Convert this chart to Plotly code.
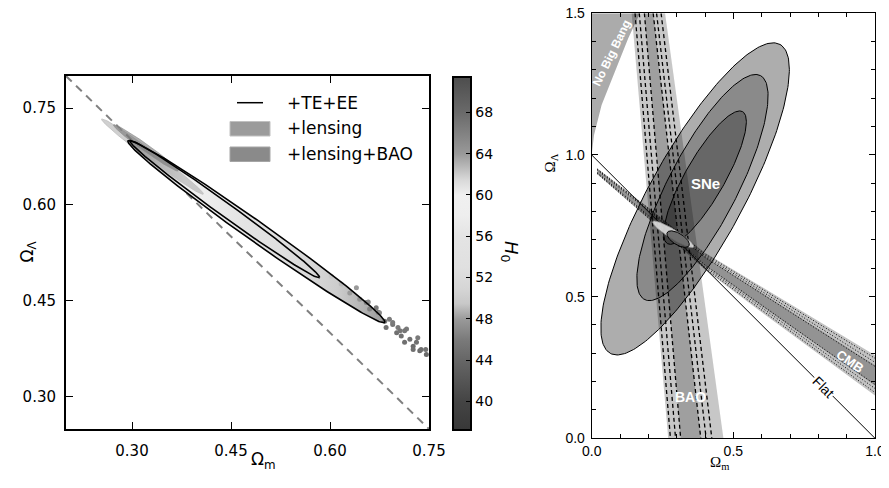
import numpy as np
import plotly.graph_objects as go

W, H = 889, 488      # window size
OFF = 8              # page body margin
FW, FH = W - OFF, H - OFF

# ---------------- DATA ----------------
# H0 colour map of the left panel (H0 value -> grey level)
cmap_h0 = [37.26, 40.0, 42.0, 44.0, 46.0, 48.0, 49.5, 51.0, 53.0, 56.0, 58.0, 60.0, 61.5, 64.0, 68.0, 71.45]
cmap_gray = [56, 68, 85, 102, 122, 154, 200, 214, 224, 228, 238, 240, 216, 153, 106, 77]
h0_ticks = [40, 44, 48, 52, 56, 60, 64, 68]

# Left panel axes ticks
left_ticks = [0.30, 0.45, 0.60, 0.75]
left_ticktext = ["0.30", "0.45", "0.60", "0.75"]

# +TE+EE contours (end points in Om, OL and width ratio)
te95_om = [0.294, 0.683]
te95_ol = [0.699, 0.416]
te95_ratio = 0.064
te68_om = [0.297, 0.584]
te68_ol = [0.699, 0.486]
te68_ratio = 0.058
# +lensing and +lensing+BAO
lens_om = [0.254, 0.408]
lens_ol = [0.733, 0.616]
lens_ratio = 0.07
lbao_om = [0.272, 0.370]
lbao_ol = [0.724, 0.652]
lbao_ratio = 0.09

# H0 along the degeneracy ridge (colour of the sample cloud)
ridge_om = [0.29, 0.32, 0.35, 0.38, 0.42, 0.47, 0.52, 0.57, 0.61, 0.65, 0.69]
ridge_h0 = [65.0, 63.0, 61.5, 60.0, 57.5, 55.0, 53.0, 51.5, 50.0, 48.8, 47.5]

# MCMC samples scattered beyond the contour tip
tail_om = [0.617, 0.630, 0.645, 0.655, 0.658, 0.660, 0.670, 0.673, 0.675, 0.683, 0.685, 0.690, 0.695,
           0.701, 0.703, 0.706, 0.708, 0.713, 0.716, 0.721, 0.726, 0.731, 0.733, 0.736, 0.738, 0.745,
           0.746, 0.726, 0.713, 0.695, 0.640, 0.602]
tail_ol = [0.476, 0.462, 0.452, 0.447, 0.448, 0.437, 0.439, 0.432, 0.431, 0.418, 0.408, 0.421, 0.413,
           0.400, 0.408, 0.403, 0.395, 0.385, 0.406, 0.390, 0.379, 0.385, 0.392, 0.372, 0.374, 0.374,
           0.366, 0.374, 0.403, 0.416, 0.470, 0.488]
tail_h0 = [49.0, 48.0, 47.5, 46.5, 47.0, 46.5, 46.0, 46.0, 47.0, 45.5, 45.0, 46.0, 45.5,
           45.0, 46.0, 45.5, 45.0, 45.0, 46.0, 45.0, 44.5, 45.0, 46.0, 44.5, 45.0, 45.5,
           44.5, 45.0, 45.5, 46.0, 48.0, 49.5]

# Right panel
right_ticks = [0.0, 0.5, 1.0, 1.5]
# No Big Bang boundary
nbb_om = [0.0, 0.008, 0.035, 0.082, 0.129, 0.17]
nbb_ol = [1.0, 1.07, 1.176, 1.294, 1.412, 1.5]
# BAO band edges: Om at OL=1.5 (top) and OL=0 (bottom)
bao_out_top = [0.141, 0.259]
bao_out_bot = [0.270, 0.465]
bao_in_top = [0.186, 0.217]
bao_in_bot = [0.314, 0.385]
bao_dash_top = [0.153, 0.168, 0.186, 0.217, 0.229, 0.245]
bao_dash_bot = [0.278, 0.296, 0.314, 0.385, 0.404, 0.424]
# CMB band: centre line and half widths
cmb_om = [0.02, 0.2, 0.4, 0.6, 0.8, 1.0]
cmb_mid = [0.942, 0.795, 0.625, 0.490, 0.355, 0.222]
cmb_hw_out = [0.010, 0.020, 0.030, 0.045, 0.058, 0.071]
cmb_hw_in = [0.005, 0.010, 0.016, 0.024, 0.030, 0.036]
cmb_dot_frac = [0.85, 0.65, 0.45, -0.45, -0.65, -0.85]
# SNe ellipses (outer, middle, inner)
sne_cx = [0.365, 0.391, 0.400]
sne_cy = [0.845, 0.885, 0.920]
sne_a = [0.622, 0.445, 0.268]
sne_b = [0.165, 0.122, 0.070]
sne_ang = [61.2, 62.6, 60.3]
# combined contour
comb_cx = [0.288, 0.305]
comb_cy = [0.720, 0.703]
comb_a = [0.085, 0.045]
comb_b = [0.016, 0.020]
comb_ang = [-32.0, -32.0]
# flat universe line
flat_om = [0.0, 1.0]
flat_ol = [1.0, 0.0]


# ---------------- helpers ----------------
def px(x):
    return (x - OFF) / FW


def py(y):
    return 1 - (y - OFF) / FH


def gray_of(h0):
    g = int(round(float(np.interp(h0, cmap_h0, cmap_gray))))
    return f"rgb({g},{g},{g})"


def tips_ellipse(om, ol, ratio, n=240):
    c = np.array([(om[0] + om[1]) / 2, (ol[0] + ol[1]) / 2])
    u = np.array([(om[1] - om[0]) / 2, (ol[1] - ol[0]) / 2])
    v = ratio * np.array([-u[1], u[0]])
    t = np.linspace(0, 2 * np.pi, n)
    return c[0] + u[0] * np.cos(t) + v[0] * np.sin(t), c[1] + u[1] * np.cos(t) + v[1] * np.sin(t)


def param_ellipse(cx, cy, a, b, ang, n=240):
    t = np.linspace(0, 2 * np.pi, n)
    th = np.radians(ang)
    x = cx + a * np.cos(t) * np.cos(th) - b * np.sin(t) * np.sin(th)
    y = cy + a * np.cos(t) * np.sin(th) + b * np.sin(t) * np.cos(th)
    return x, y


cmin, cmax = cmap_h0[0], cmap_h0[-1]
colorscale = [[(h - cmin) / (cmax - cmin), f"rgb({g},{g},{g})"] for h, g in zip(cmap_h0, cmap_gray)]
colorscale[0][0] = 0.0
colorscale[-1][0] = 1.0

fig = go.Figure()

# ---------------- LEFT PANEL ----------------
fig.add_trace(go.Scatter(x=[0.2, 0.75], y=[0.8, 0.25], mode="lines", xaxis="x", yaxis="y",
                         line=dict(color="#808080", width=2, dash="8px,6px"), showlegend=False,
                         hoverinfo="skip"))

# sample cloud inside 95% contour, coloured along the ridge
ex, ey = tips_ellipse(te95_om, te95_ol, te95_ratio)
g0, g1 = ridge_om[0], ridge_om[-1]
grad = [[(o - g0) / (g1 - g0), gray_of(h)] for o, h in zip(ridge_om, ridge_h0)]
fig.add_trace(go.Scatter(x=ex, y=ey, mode="lines", fill="toself", xaxis="x", yaxis="y",
                         line=dict(width=0, color="rgba(0,0,0,0)"),
                         fillgradient=dict(type="horizontal", colorscale=grad, start=g0, stop=g1),
                         showlegend=False, hoverinfo="skip"))

# samples beyond the tip (also carries the H0 colour bar)
fig.add_trace(go.Scatter(x=tail_om, y=tail_ol, mode="markers", xaxis="x", yaxis="y",
                         marker=dict(size=5, color=tail_h0, colorscale=colorscale, cmin=cmin, cmax=cmax,
                                     line=dict(width=0), showscale=True,
                                     colorbar=dict(x=px(452.7), xanchor="left", y=py(76.7), yanchor="top",
                                                   len=353.3 / FH, lenmode="fraction", thickness=18,
                                                   thicknessmode="pixels", xpad=0, ypad=0,
                                                   outlinewidth=2, outlinecolor="black",
                                                   tickvals=h0_ticks, ticks="inside", ticklen=6,
                                                   tickcolor="black", tickwidth=1,
                                                   tickfont=dict(family="DejaVu Sans", size=14, color="black"))),
                         showlegend=False, hoverinfo="skip"))

# lensing contours
lx, ly = tips_ellipse(lens_om, lens_ol, lens_ratio)
fig.add_trace(go.Scatter(x=lx, y=ly, mode="lines", fill="toself", xaxis="x", yaxis="y",
                         fillcolor="rgba(150,150,150,0.45)", line=dict(width=1, color="rgba(190,190,190,0.8)"),
                         name="+lensing", showlegend=False, hoverinfo="skip"))
bx, by = tips_ellipse(lbao_om, lbao_ol, lbao_ratio)
fig.add_trace(go.Scatter(x=bx, y=by, mode="lines", fill="toself", xaxis="x", yaxis="y",
                         fillcolor="rgba(110,110,110,0.55)", line=dict(width=0.8, color="rgba(140,140,140,0.8)"),
                         name="+lensing+BAO", showlegend=False, hoverinfo="skip"))

# TE+EE contour lines
for om, ol, r in [(te95_om, te95_ol, te95_ratio), (te68_om, te68_ol, te68_ratio)]:
    cx_, cy_ = tips_ellipse(om, ol, r)
    fig.add_trace(go.Scatter(x=cx_, y=cy_, mode="lines", xaxis="x", yaxis="y",
                             line=dict(color="black", width=1.6), name="+TE+EE", showlegend=False,
                             hoverinfo="skip"))

# ---------------- RIGHT PANEL ----------------
# No Big Bang region
fig.add_trace(go.Scatter(x=[0.0] + nbb_om + [0.0], y=[1.0] + nbb_ol + [1.5], mode="lines", fill="toself",
                         xaxis="x2", yaxis="y2", fillcolor="rgba(0,0,0,0.33)", line=dict(width=0),
                         showlegend=False, hoverinfo="skip"))


def band(top, bot):
    return [top[0], top[1], bot[1], bot[0], top[0]], [1.5, 1.5, 0.0, 0.0, 1.5]


for top, bot, alpha in [(bao_out_top, bao_out_bot, 0.22), (bao_in_top, bao_in_bot, 0.2)]:
    xs, ys = band(top, bot)
    fig.add_trace(go.Scatter(x=xs, y=ys, mode="lines", fill="toself", xaxis="x2", yaxis="y2",
                             fillcolor=f"rgba(0,0,0,{alpha})", line=dict(width=0),
                             showlegend=False, hoverinfo="skip"))

mid = np.array(cmb_mid)
for hw, alpha in [(np.array(cmb_hw_out), 0.24), (np.array(cmb_hw_in), 0.24)]:
    xs = cmb_om + cmb_om[::-1] + [cmb_om[0]]
    ys = list(mid + hw) + list((mid - hw)[::-1]) + [mid[0] + hw[0]]
    fig.add_trace(go.Scatter(x=xs, y=ys, mode="lines", fill="toself", xaxis="x2", yaxis="y2",
                             fillcolor=f"rgba(0,0,0,{alpha})", line=dict(width=0),
                             showlegend=False, hoverinfo="skip"))

for cx_, cy_, a, b, ang, alpha in zip(sne_cx, sne_cy, sne_a, sne_b, sne_ang, [0.32, 0.2, 0.25]):
    sx, sy = param_ellipse(cx_, cy_, a, b, ang)
    fig.add_trace(go.Scatter(x=sx, y=sy, mode="lines", fill="toself", xaxis="x2", yaxis="y2",
                             fillcolor=f"rgba(0,0,0,{alpha})", line=dict(width=1, color="black"),
                             showlegend=False, hoverinfo="skip"))

for t, b in zip(bao_dash_top, bao_dash_bot):
    fig.add_trace(go.Scatter(x=[t, b], y=[1.5, 0.0], mode="lines", xaxis="x2", yaxis="y2",
                             line=dict(color="black", width=1.3, dash="4px,3px"),
                             showlegend=False, hoverinfo="skip"))

for f in cmb_dot_frac:
    fig.add_trace(go.Scatter(x=cmb_om, y=mid + f * np.array(cmb_hw_out), mode="lines", xaxis="x2", yaxis="y2",
                             line=dict(color="black", width=1, dash="1px,2px"),
                             showlegend=False, hoverinfo="skip"))

fig.add_trace(go.Scatter(x=flat_om, y=flat_ol, mode="lines", xaxis="x2", yaxis="y2",
                         line=dict(color="black", width=1), showlegend=False, hoverinfo="skip"))

# combined contour
cx0, cy0 = param_ellipse(comb_cx[0], comb_cy[0], comb_a[0], comb_b[0], comb_ang[0])
fig.add_trace(go.Scatter(x=cx0, y=cy0, mode="lines", fill="toself", xaxis="x2", yaxis="y2",
                         fillcolor="rgba(225,225,225,0.9)", line=dict(width=0.8, color="#999"),
                         showlegend=False, hoverinfo="skip"))
cx1, cy1 = param_ellipse(comb_cx[1], comb_cy[1], comb_a[1], comb_b[1], comb_ang[1])
fig.add_trace(go.Scatter(x=cx1, y=cy1, mode="lines", fill="toself", xaxis="x2", yaxis="y2",
                         fillcolor="rgba(90,90,90,0.85)", line=dict(width=1, color="black"),
                         showlegend=False, hoverinfo="skip"))

# ---------------- LAYOUT ----------------
lfont = dict(family="DejaVu Sans", size=15, color="black")
rfont = dict(family="Liberation Sans", size=14, color="black")
fig.update_layout(
    width=FW, height=FH, margin=dict(l=0, r=0, t=0, b=0, autoexpand=False),
    paper_bgcolor="white", plot_bgcolor="white", showlegend=False,
    xaxis=dict(domain=[px(66), px(429)], range=[0.2, 0.75], tickvals=left_ticks, ticktext=left_ticktext,
               ticks="inside", ticklen=7, tickwidth=1, tickcolor="black", mirror="allticks",
               showline=True, linewidth=2, linecolor="black", showgrid=False, zeroline=False,
               tickfont=lfont, ticklabelstandoff=7, automargin=False),
    yaxis=dict(domain=[py(429), py(76)], range=[0.25, 0.80], tickvals=left_ticks, ticktext=left_ticktext,
               ticks="inside", ticklen=7, tickwidth=1, tickcolor="black", mirror="allticks",
               showline=True, linewidth=2, linecolor="black", showgrid=False, zeroline=False,
               tickfont=lfont, ticklabelstandoff=5, automargin=False),
    xaxis2=dict(domain=[px(591.7), px(875)], range=[0, 1], tick0=0, dtick=0.5, tickformat=".1f",
                ticks="inside", ticklen=6, tickwidth=1, tickcolor="black", mirror="allticks",
                minor=dict(tick0=0, dtick=0.1, ticks="inside", ticklen=4, tickcolor="black"),
                showline=True, linewidth=1, linecolor="black", showgrid=False, zeroline=False,
                tickfont=rfont, ticklabelstandoff=0, anchor="y2", automargin=False,
                ticklabeloverflow="allow"),
    yaxis2=dict(domain=[py(438.3), py(13.3)], range=[0, 1.5], tickvals=right_ticks, tickformat=".1f",
                ticks="inside", ticklen=6, tickwidth=1, tickcolor="black", mirror="allticks",
                minor=dict(tick0=0, dtick=0.1, ticks="inside", ticklen=4, tickcolor="black"),
                showline=True, linewidth=1, linecolor="black", showgrid=False, zeroline=False,
                tickfont=rfont, ticklabelstandoff=3, anchor="x2", automargin=False,
                ticklabeloverflow="allow"),
)

# legend (manual)
fig.add_shape(type="line", xref="paper", yref="paper", x0=px(237), x1=px(263), y0=py(102.7), y1=py(102.7),
              line=dict(color="black", width=1.5))
fig.add_shape(type="rect", xref="paper", yref="paper", x0=px(230), x1=px(270), y0=py(136), y1=py(121.5),
              fillcolor="#9b9b9b", line=dict(color="#c0c0c0", width=1))
fig.add_shape(type="rect", xref="paper", yref="paper", x0=px(230), x1=px(270), y0=py(161.5), y1=py(147),
              fillcolor="#8a8a8a", line=dict(color="#a5a5a5", width=1))
for txt, yy in [("+TE+EE", 102.7), ("+lensing", 128.5), ("+lensing+BAO", 154.3)]:
    fig.add_annotation(text=txt, xref="paper", yref="paper", x=px(285), y=py(yy), xanchor="left",
                       yanchor="middle", showarrow=False, font=dict(family="DejaVu Sans", size=17, color="black"))

# axis titles
fig.add_annotation(text="Ω<sub>Λ</sub>", xref="paper", yref="paper", x=px(14), y=py(252), textangle=-90,
                   showarrow=False, font=dict(family="DejaVu Sans", size=17, color="black"))
fig.add_annotation(text="Ω<sub>m</sub>", xref="paper", yref="paper", x=px(249), y=py(474),
                   showarrow=False, font=dict(family="DejaVu Sans", size=17, color="black"))
fig.add_annotation(text="<i>H</i><sub>0</sub>", xref="paper", yref="paper", x=px(510), y=py(252),
                   textangle=90, showarrow=False, font=dict(family="DejaVu Sans", size=18, color="black"))
fig.add_annotation(text="Ω<sub>Λ</sub>", xref="paper", yref="paper", x=px(550), y=py(152), textangle=-90,
                   showarrow=False, font=dict(family="Liberation Serif", size=15, color="black"))
fig.add_annotation(text="Ω<sub>m</sub>", xref="paper", yref="paper", x=px(731), y=py(474),
                   showarrow=False, font=dict(family="Liberation Serif", size=15, color="black"))

# right panel labels
wb = dict(family="Liberation Sans", color="white")
fig.add_annotation(text="<b>SNe</b>", xref="x2", yref="y2", x=0.40, y=0.90, showarrow=False,
                   font=dict(size=15, **wb))
fig.add_annotation(text="<b>BAO</b>", xref="x2", yref="y2", x=0.347, y=0.147, showarrow=False,
                   font=dict(size=14, **wb))
fig.add_annotation(text="<b>CMB</b>", xref="x2", yref="y2", x=0.912, y=0.27, showarrow=False,
                   textangle=34, font=dict(size=13, **wb))
fig.add_annotation(text="<b>No Big Bang</b>", xref="x2", yref="y2", x=0.071, y=1.359, showarrow=False,
                   textangle=-64, font=dict(size=12, **wb))
fig.add_annotation(text="Flat", xref="x2", yref="y2", x=0.818, y=0.182, showarrow=False, textangle=45,
                   bgcolor="white", borderpad=1, font=dict(family="Liberation Sans", size=14, color="black"))

fig.write_html("out.html")
